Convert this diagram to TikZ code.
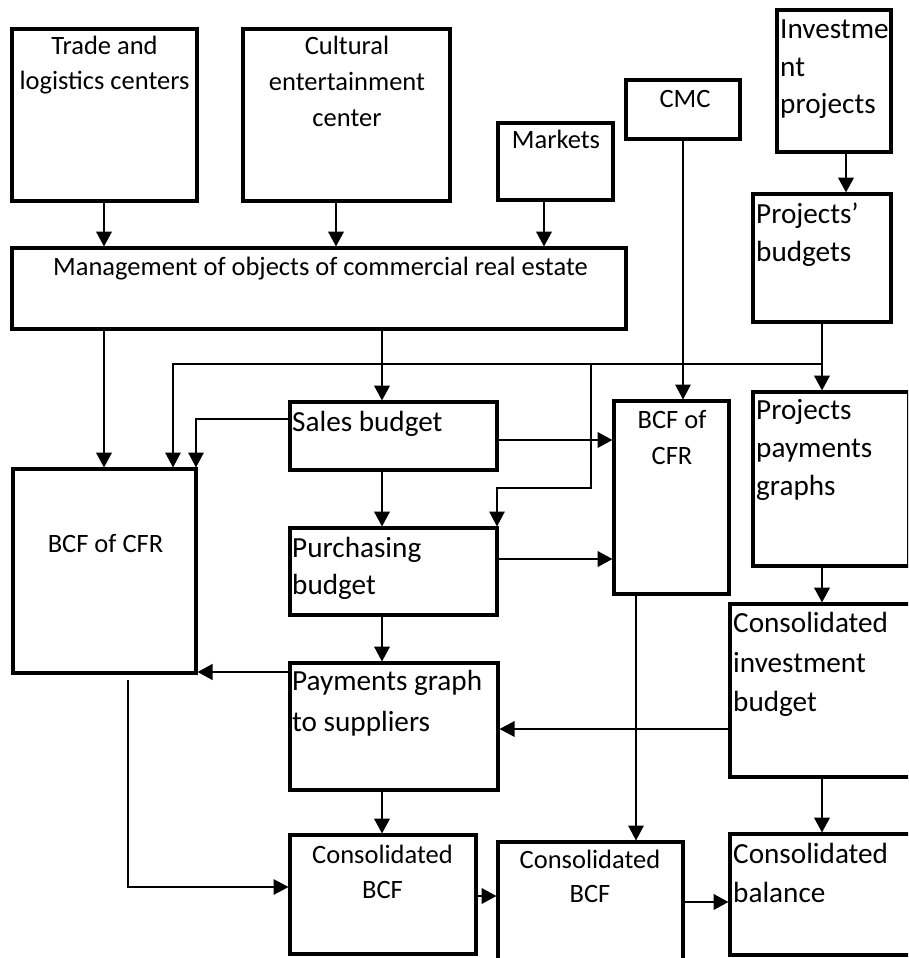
\documentclass[tikz,border=0pt]{standalone}
\usepackage{fontspec}
\setmainfont{Carlito}
\usetikzlibrary{arrows.meta}
\newcommand\fsmall{\fontsize{26.5}{35}\selectfont}
\newcommand\flarge{\fontsize{29.2}{38.5}\selectfont}
\tikzset{
  box/.style={draw, line width=3.8pt, anchor=north west, inner sep=0pt, outer sep=0pt},
  arr/.style={line width=2.5pt, shorten >=1.5pt, -{Triangle[length=15pt,width=15.5pt]}},
  arrt/.style={line width=1.5pt, shorten >=1.5pt, -{Triangle[length=15pt,width=15.5pt]}},
  ts/.style={inner sep=0pt, font=\fsmall, anchor=base},
  tsl/.style={ts, anchor=base west},
  tl/.style={inner sep=0pt, font=\flarge, anchor=base},
  tll/.style={tl, anchor=base west},
}
\newcommand\bx[5]{\node[box, minimum width={#4-#2}, minimum height={#5-#3}] (#1) at (#2,#3) {};}
\begin{document}
\begin{tikzpicture}[x=1pt,y=-1pt]
\useasboundingbox (0,0) rectangle (908,958);
\clip (0,0) rectangle (908,958);
% boxes
\bx{trade}{12}{29}{197}{201}
\bx{cult}{243}{29}{450}{201}
\bx{mark}{498}{123}{613}{200}
\bx{cmc}{626}{80}{740}{139}
\bx{inv}{777}{10}{891}{152}
\bx{pbud}{753}{194}{891}{322}
\bx{mgmt}{12}{248}{626}{329}
\bx{sales}{290}{402}{497}{470}
\bx{purch}{290}{528}{497}{615}
\bx{bcfa}{13}{469}{196}{673}
\bx{bcfb}{614}{401}{729}{594}
\bx{ppg}{753}{392}{909}{566}
\bx{cib}{730}{604}{915}{777}
\bx{pay}{290}{663}{498}{790}
\bx{cbcfa}{290}{835}{476}{954}
\bx{cbcfb}{498}{842}{683}{975}
\bx{cbal}{730}{834}{915}{955}
% texts
\node[ts] at (104.5,55) {Trade and};
\node[ts] at (104.5,89) {logistics centers};
\node[ts] at (347,55) {Cultural};
\node[ts] at (347,90) {entertainment};
\node[ts] at (347,126) {center};
\node[ts] at (556,148) {Markets};
\node[ts] at (685,107) {CMC};
\node[tll] at (780,38) {Investme};
\node[tll] at (780,77) {nt};
\node[tll] at (780,113) {projects};
\node[tll] at (756,223) {Projects’};
\node[tll] at (756,261) {budgets};
\node[ts] at (320.5,275) {Management of objects of commercial real estate};
\node[tll] at (292,431) {Sales budget};
\node[tll] at (292,557) {Purchasing};
\node[tll] at (292,594) {budget};
\node[ts] at (105.5,552) {BCF of CFR};
\node[ts] at (672,428) {BCF of};
\node[ts] at (672,464) {CFR};
\node[tll] at (756,419) {Projects};
\node[tll] at (756,457) {payments};
\node[tll] at (756,495) {graphs};
\node[tll] at (733,632) {Consolidated};
\node[tll] at (733,672) {investment};
\node[tll] at (733,711) {budget};
\node[tll] at (292,690) {Payments graph};
\node[tll] at (292,731) {to suppliers};
\node[ts] at (382.5,863) {Consolidated};
\node[ts] at (382.5,898) {BCF};
\node[ts] at (590,868) {Consolidated};
\node[ts] at (590,902) {BCF};
\node[tll] at (733,863) {Consolidated};
\node[tll] at (733,902) {balance};
% connectors
\draw[arr] (trade.south -| 104,0) -- (mgmt.north -| 104,0);
\draw[arr] (cult.south -| 336,0) -- (mgmt.north -| 336,0);
\draw[arr] (mark.south -| 544,0) -- (mgmt.north -| 544,0);
\draw[arr] (inv.south -| 846,0) -- (pbud.north -| 846,0);
\draw[arr] (mgmt.south -| 104,0) -- (bcfa.north -| 104,0);
\draw[arr] (mgmt.south -| 382,0) -- (sales.north -| 382,0);
\draw[arrt] (cmc.south -| 683,0) -- (bcfb.north -| 683,0);
\draw[arr] (pbud.south -| 822,0) -- (ppg.north -| 822,0);
\coordinate (j1) at (822,364);
\coordinate (j2) at (591,364);
\coordinate (j3) at (591,488);
\draw[arrt] (j1) -| (bcfa.north -| 173,0);
\draw[arrt] (j2) -- (j3) -| (purch.north east);
\draw[arrt] (sales.west |- 0,419) -| (bcfa.north east);
\draw[arr] (sales.south -| 382,0) -- (purch.north -| 382,0);
\draw[arr] (sales.east |- 0,440) -- (bcfb.west |- 0,440);
\draw[arr] (purch.east |- 0,559) -- (bcfb.west |- 0,559);
\draw[arr] (purch.south -| 382,0) -- (pay.north -| 382,0);
\draw[arr] (pay.west |- 0,672) -- (bcfa.east |- 0,672);
\draw[arr] (ppg.south -| 822,0) -- (cib.north -| 822,0);
\draw[arrt] (cib.west |- 0,729) -- (pay.east |- 0,729);
\draw[arrt] (bcfb.south -| 636,0) -- (cbcfb.north -| 636,0);
\draw[arr] (pay.south -| 382,0) -- (cbcfa.north -| 382,0);
\draw[arrt, shorten <=7pt] (bcfa.south -| 128,0) |- (cbcfa.west |- 0,887);
\draw[arr] (cbcfa.east |- 0,896) -- (cbcfb.west |- 0,896);
\draw[arr] (cbcfb.east |- 0,902) -- (cbal.west |- 0,902);
\draw[arr] (cib.south -| 822,0) -- (cbal.north -| 822,0);
\end{tikzpicture}
\end{document}
